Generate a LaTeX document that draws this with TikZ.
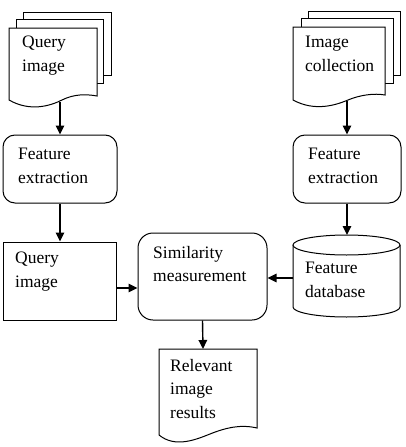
\documentclass[tikz,border=0pt]{standalone}
\usepackage{fontspec}
\setmainfont{Liberation Serif}
\usetikzlibrary{arrows.meta}
\begin{document}
\begin{tikzpicture}[x=1pt,y=-1pt,
  shape line/.style={draw=black,line width=1pt,fill=white},
  box/.style={draw=black,line width=1pt,rectangle,inner sep=0pt},
  rbox/.style={box,rounded corners=12pt},
  txt/.style={anchor=north west,inner sep=0pt,align=left,font=\fontsize{17.5}{23.5}\selectfont},
  arr/.style={line width=1.4pt,-{Triangle[length=9pt,width=8.5pt]}}]
\useasboundingbox (0,0) rectangle (405,447);
% Query image multi-document
\draw[shape line] (23,12) rectangle (111,75);
\draw[shape line] (16,19) rectangle (103,83);
\draw[shape line] (9,28) -- (97,28) -- (97,96) .. controls (86,94) and (74,94) .. (62,100) .. controls (50,106) and (30,112) .. (9,100) -- cycle;
\coordinate (qdocb) at (60,102);
\node[txt] (qdoct) at (22,36) {Query\\image};
% Image collection multi-document
\draw[shape line] (308,11) rectangle (400,75);
\draw[shape line] (301,18) rectangle (393,83);
\draw[shape line] (293,27) -- (385,27) -- (385,95) .. controls (374,93) and (360,95) .. (348,100) .. controls (336,105) and (315,112) .. (293,100) -- cycle;
\coordinate (icolb) at (347,101);
\node[txt] (icolt) at (305,36) {Image\\collection};
% Feature extraction boxes
\node[rbox,minimum width=114pt,minimum height=68pt] (fe1) at (60,169) {};
\node[txt] (fe1t) at (18,148) {Feature\\extraction};
\node[rbox,minimum width=108pt,minimum height=68pt] (fe2) at (347,169) {};
\node[txt] (fe2t) at (308,148) {Feature\\extraction};
% Query image rectangle
\node[box,minimum width=113pt,minimum height=78pt] (qr) at (60,281) {};
\node[txt] (qrt) at (15,252) {Query\\image};
% Similarity
\node[box,rounded corners=15pt,minimum width=129pt,minimum height=87pt] (sim) at (202.5,276.5) {};
\node[txt] (simt) at (153,246) {Similarity\\measurement};
% Cylinder database
\draw[shape line] (293,245) -- (293,307) arc[start angle=180,end angle=360,x radius=53.5,y radius=-10] -- (400,245);
\draw[shape line] (346.5,245) ellipse[x radius=53.5,y radius=10];
\coordinate (dbtop) at (347,235);
\coordinate (dbleft) at (293,278);
\node[txt] (dbt) at (305,262) {Feature\\database};
% Relevant image results document
\draw[shape line] (159,349) -- (257,349) -- (257,428) .. controls (240,424) and (225,428) .. (210,434) .. controls (195,440) and (175,448) .. (159,435) -- cycle;
\coordinate (reltop) at (203,349);
\node[txt] (relt) at (170,359) {Relevant\\image\\results};
% Arrows
\draw[arr] (qdocb) -- (fe1.north);
\draw[arr] (fe1.south) -- (qr.north);
\draw[arr] (qr.east |- 0,288) -- (sim.west |- 0,288);
\draw[arr] (dbleft) -- (sim.east |- dbleft);
\draw[arr] (sim.south) -- (reltop);
\draw[arr] (icolb) -- (fe2.north);
\draw[arr] (fe2.south) -- (dbtop);
\end{tikzpicture}
\end{document}
